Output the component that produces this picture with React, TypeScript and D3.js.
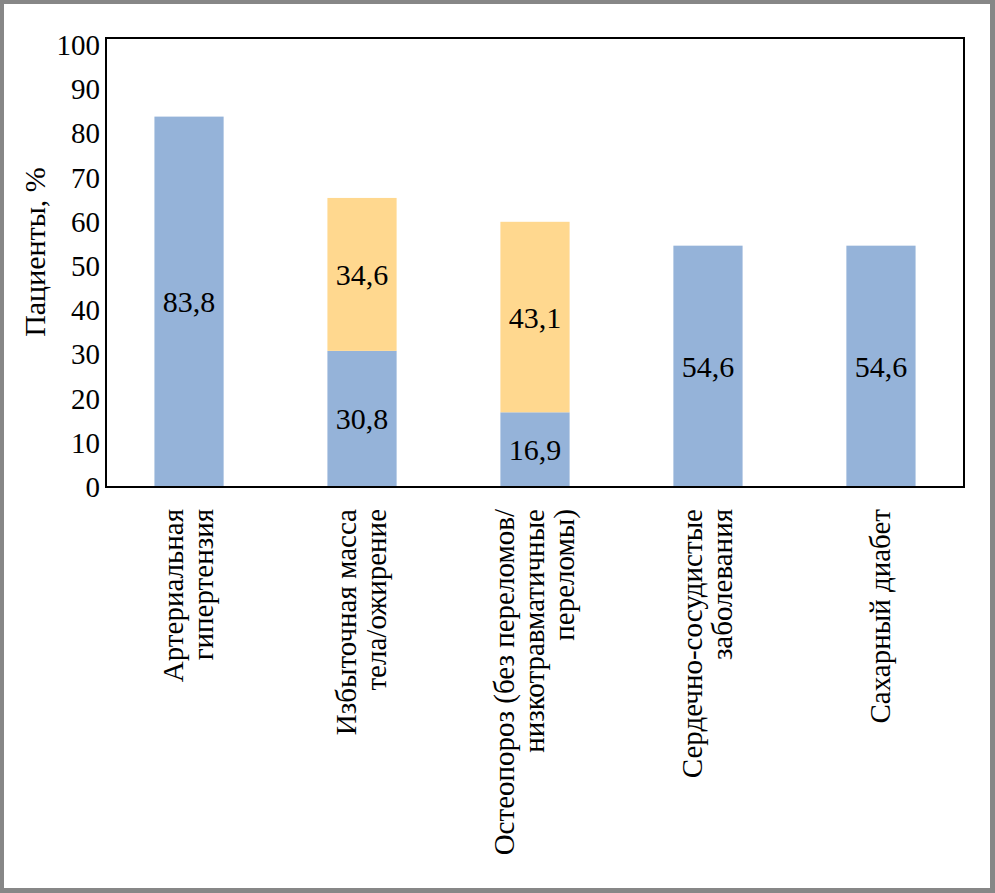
import React from "react";
import * as d3 from "d3";

const categories: string[][] = [
  ["Артериальная", "гипертензия"],
  ["Избыточная масса", "тела/ожирение"],
  ["Остеопороз (без переломов/", "низкотравматичные", "переломы)"],
  ["Сердечно-сосудистые", "заболевания"],
  ["Сахарный диабет"],
];
const blueValues = [83.8, 30.8, 16.9, 54.6, 54.6];
const orangeValues = [0, 34.6, 43.1, 0, 0];
const yTicks = [0, 10, 20, 30, 40, 50, 60, 70, 80, 90, 100];
const yTitle = "Пациенты, %";

const W = 995;
const H = 893;
const BLUE = "#95B3D9";
const ORANGE = "#FFD88F";
const FONT = "Liberation Serif, DejaVu Serif, serif";

export default function App() {
  const left = 106, right = 964, top = 38, bottom = 487;
  const x = d3
    .scaleBand<number>()
    .domain(categories.map((_, i) => i))
    .range([left, right])
    .paddingInner(0.6)
    .paddingOuter(0.28);
  const y = d3.scaleLinear().domain([0, 100]).range([bottom, 45]);
  const fmt = (v: number) => v.toFixed(1).replace(".", ",");
  const lineH = 30;
  const ts: React.CSSProperties = { fontFamily: FONT, fontSize: 30 };
  const catStyle: React.CSSProperties = { fontFamily: FONT, fontSize: 29 };
  const tickStyle: React.CSSProperties = { fontFamily: FONT, fontSize: 29 };

  return (
    <svg width={W} height={H} style={{ position: "absolute", left: 0, top: 0 }}>
      <rect x={0} y={0} width={W} height={H} fill="#878787" />
      <rect x={4} y={4} width={986} height={884} fill="#ffffff" />
      {categories.map((_, i) => {
        const bx = x(i)!;
        const bw = x.bandwidth();
        const b = blueValues[i];
        const o = orangeValues[i];
        return (
          <g key={i}>
            <rect x={bx} y={y(b)} width={bw} height={y(0) - y(b)} fill={BLUE} />
            {o > 0 && (
              <rect x={bx} y={y(b + o)} width={bw} height={y(b) - y(b + o)} fill={ORANGE} />
            )}
            <text
              x={bx + bw / 2}
              y={(y(0) + y(b)) / 2}
              textAnchor="middle"
              dominantBaseline="central"
              style={ts}
              fill="#000"
            >
              {fmt(b)}
            </text>
            {o > 0 && (
              <text
                x={bx + bw / 2}
                y={(y(b) + y(b + o)) / 2}
                textAnchor="middle"
                dominantBaseline="central"
                style={ts}
                fill="#000"
              >
                {fmt(o)}
              </text>
            )}
          </g>
        );
      })}
      <rect x={left} y={top} width={right - left} height={bottom - top} fill="none" stroke="#000" strokeWidth={2} />
      {yTicks.map((t) => (
        <text key={t} x={100} y={y(t)} textAnchor="end" dominantBaseline="central" style={tickStyle} fill="#000">
          {t}
        </text>
      ))}
      <text
        transform={`translate(45, 252) rotate(-90)`}
        textAnchor="middle"
        style={ts}
        fill="#000"
      >
        {yTitle}
      </text>
      {categories.map((lines, i) => {
        const cx = x(i)! + x.bandwidth() / 2;
        const n = lines.length;
        return lines.map((ln, j) => {
          const bx = cx + (j - (n - 1) / 2) * lineH + 9;
          return (
            <text
              key={`${i}-${j}`}
              transform={`translate(${bx}, 509) rotate(-90)`}
              textAnchor="end"
              style={catStyle}
              fill="#000"
            >
              {ln}
            </text>
          );
        });
      })}
    </svg>
  );
}
